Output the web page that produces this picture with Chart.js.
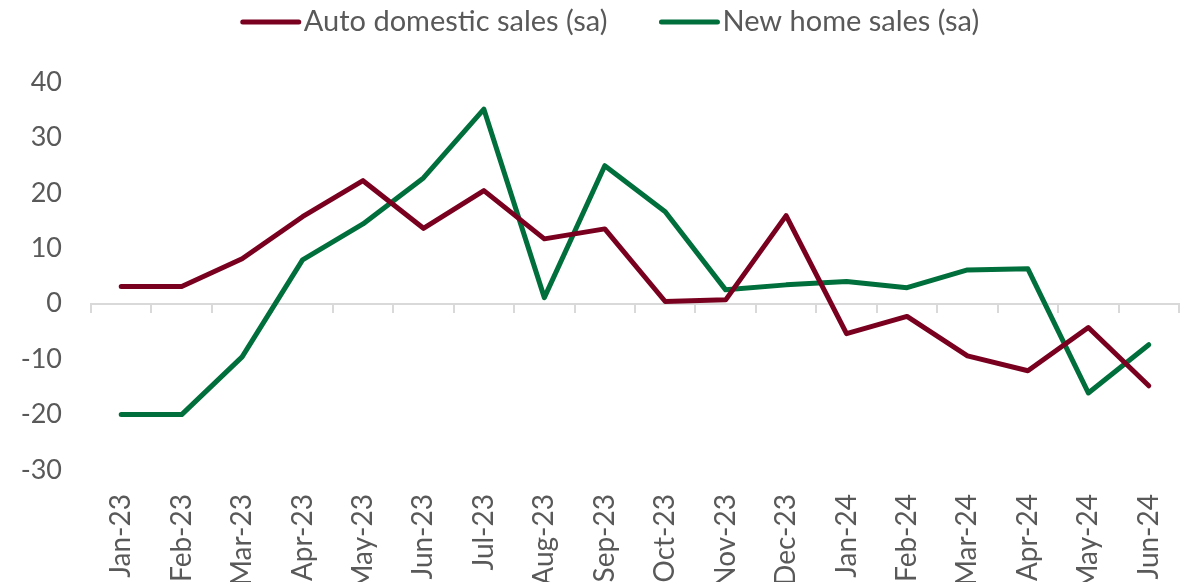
<!DOCTYPE html>
<html>
<head>
<meta charset="utf-8">
<script src="https://cdn.jsdelivr.net/npm/chart.js@4/dist/chart.umd.min.js"></script>
<style>
  body { margin: 0; background: #fff; }
  canvas { display: block; }
</style>
</head>
<body>
<canvas id="salesChart" width="1185" height="582"></canvas>
<script>
// monthly categories
const months = ['Jan-23', 'Feb-23', 'Mar-23', 'Apr-23', 'May-23', 'Jun-23', 'Jul-23', 'Aug-23', 'Sep-23',
  'Oct-23', 'Nov-23', 'Dec-23', 'Jan-24', 'Feb-24', 'Mar-24', 'Apr-24', 'May-24', 'Jun-24'];

// values
const autoSales = [3.1, 3.1, 8.1, 15.7, 22.2, 13.6, 20.4, 11.7, 13.5, 0.4, 0.7, 15.9, -5.4, -2.3, -9.4, -12.1, -4.3, -14.8];
const homeSales = [-20, -20, -9.6, 7.9, 14.4, 22.7, 35.1, 1.1, 24.9, 16.6, 2.5, 3.4, 4.0, 2.9, 6.1, 6.3, -16.1, -7.4];

const yTicks = [40, 30, 20, 10, 0, -10, -20, -30];

const FONT = 'Lato, "Open Sans", sans-serif';
const TEXT = '#595959';

// legend drawn by hand: line sample right next to the text, like the original
const topLegend = {
  id: 'topLegend',
  afterDraw(chart) {
    const c = chart.ctx;
    const sample = 60, gap = 3, itemGap = 52;
    c.save();
    c.font = '29px ' + FONT;
    c.textBaseline = 'middle';
    const items = chart.data.datasets.map(ds => ({ ds, w: c.measureText(ds.label).width }));
    const total = items.reduce((s, it) => s + sample + gap + it.w, 0) + itemGap * (items.length - 1);
    let x = 610 - total / 2;
    const y = 22;
    items.forEach(it => {
      c.strokeStyle = it.ds.borderColor;
      c.lineWidth = 5;
      c.lineCap = 'round';
      c.beginPath();
      c.moveTo(x + 2, y);
      c.lineTo(x + sample - 2, y);
      c.stroke();
      c.fillStyle = TEXT;
      c.fillText(it.ds.label, x + sample + gap, y);
      x += sample + gap + it.w + itemGap;
    });
    c.restore();
  }
};

const ctx = document.getElementById('salesChart').getContext('2d');

new Chart(ctx, {
  type: 'line',
  data: {
    labels: months,
    datasets: [
      {
        label: 'Auto domestic sales (sa)',
        data: autoSales,
        borderColor: '#7a0020',
        backgroundColor: '#7a0020',
        borderWidth: 5,
        pointRadius: 0,
        tension: 0,
        borderJoinStyle: 'round',
        borderCapStyle: 'round'
      },
      {
        label: 'New home sales (sa)',
        data: homeSales,
        borderColor: '#006f3c',
        backgroundColor: '#006f3c',
        borderWidth: 5,
        pointRadius: 0,
        tension: 0,
        borderJoinStyle: 'round',
        borderCapStyle: 'round'
      }
    ]
  },
  options: {
    responsive: false,
    animation: false,
    layout: { padding: { top: 82, right: 6, left: 0, bottom: 0 } },
    plugins: {
      tooltip: { enabled: false },
      legend: { display: false }
    },
    scales: {
      x: {
        type: 'category',
        offset: true,
        grid: { display: false },
        border: { display: false },
        ticks: {
          color: TEXT,
          font: { family: FONT, size: 28 },
          minRotation: 90,
          maxRotation: 90,
          autoSkip: false,
          padding: 16
        },
        afterFit: (scale) => {
          scale.height = 112;
          scale.paddingLeft = 0;
          scale.paddingRight = 0;
        }
      },
      x2: {
        type: 'category',
        offset: true,
        position: { y: 0 },
        grid: {
          drawOnChartArea: false,
          offset: true,
          drawTicks: true,
          tickLength: 8,
          color: '#d9d9d9',
          lineWidth: 2
        },
        border: { color: '#d9d9d9', width: 2 },
        ticks: { display: false }
      },
      y: {
        min: -30,
        max: 40,
        afterBuildTicks: (scale) => { scale.ticks = yTicks.map(v => ({ value: v })); },
        grid: { display: false, drawTicks: false },
        border: { display: false },
        ticks: {
          color: TEXT,
          font: { family: FONT, size: 27 },
          padding: 29
        },
        afterFit: (scale) => { scale.width = 91; }
      }
    }
  },
  plugins: [topLegend]
});
</script>
</body>
</html>
